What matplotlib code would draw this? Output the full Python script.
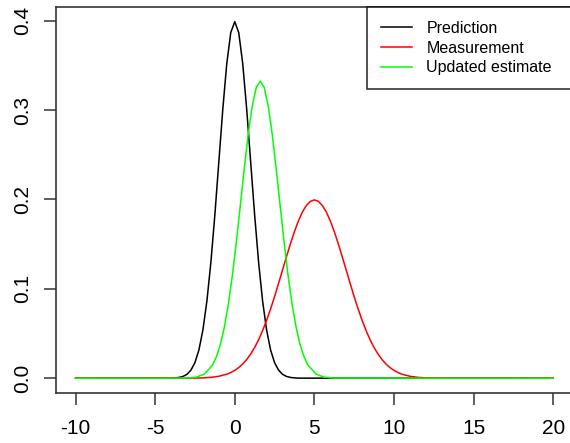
import matplotlib as mpl
mpl.use('Agg')
import matplotlib.pyplot as plt

#
#--- data (density curves)
#
pred_x = [-10, -4, -3.75, -3.5, -3.25, -3, -2.75, -2.5, -2.25, -2, -1.75, -1.5, -1.25, -1, -0.75, -0.5, -0.25,
          0, 0.25, 0.5, 0.75, 1, 1.25, 1.5, 1.75, 2, 2.25, 2.5, 2.75, 3, 3.25, 3.5, 3.75, 4, 20]
pred_y = [0, 0.0001, 0.0004, 0.0009, 0.0020, 0.0044, 0.0091, 0.0175, 0.0317, 0.0540, 0.0863, 0.1295, 0.1826,
          0.2420, 0.3011, 0.3521, 0.3867, 0.3989, 0.3867, 0.3521, 0.3011, 0.2420, 0.1826, 0.1295, 0.0863,
          0.0540, 0.0317, 0.0175, 0.0091, 0.0044, 0.0020, 0.0009, 0.0004, 0.0001, 0]

meas_x = [-10, -3, -2.5, -2, -1.5, -1, -0.5, -0.25, 0, 0.25, 0.5, 0.75, 1, 1.25, 1.5, 1.75, 2, 2.25, 2.5,
          2.75, 3, 3.25, 3.5, 3.75, 4, 4.25, 4.5, 4.75, 5, 5.25, 5.5, 5.75, 6, 6.25, 6.5, 6.75, 7, 7.25,
          7.5, 7.75, 8, 8.25, 8.5, 8.75, 9, 9.25, 9.5, 9.75, 10, 10.25, 10.5, 11, 11.5, 12, 12.5, 13, 20]
meas_y = [0, 0.0001, 0.0002, 0.0004, 0.0010, 0.0022, 0.0045, 0.0064, 0.0088, 0.0119, 0.0159, 0.0209,
          0.0270, 0.0344, 0.0431, 0.0533, 0.0648, 0.0775, 0.0913, 0.1060, 0.1210, 0.1360, 0.1506, 0.1641,
          0.1760, 0.1860, 0.1933, 0.1979, 0.1995, 0.1979, 0.1933, 0.1860, 0.1760, 0.1641, 0.1506, 0.1360,
          0.1210, 0.1060, 0.0913, 0.0775, 0.0648, 0.0533, 0.0431, 0.0344, 0.0270, 0.0209, 0.0159, 0.0119,
          0.0088, 0.0064, 0.0045, 0.0022, 0.0010, 0.0004, 0.0002, 0.0001, 0]

upd_x = [-10, -3.4, -2.9, -2.4, -1.9, -1.4, -1.15, -0.9, -0.65, -0.4, -0.15, 0.1, 0.35, 0.6, 0.85, 1.1,
         1.35, 1.6, 1.85, 2.1, 2.35, 2.6, 2.85, 3.1, 3.35, 3.6, 3.85, 4.1, 4.35, 4.6, 5.1, 5.6, 6.1, 6.6, 20]
upd_y = [0, 0.0001, 0.0003, 0.0013, 0.0047, 0.0146, 0.0241, 0.0379, 0.0573, 0.0829, 0.1148, 0.1522,
         0.1932, 0.2349, 0.2734, 0.3048, 0.3253, 0.3324, 0.3253, 0.3048, 0.2734, 0.2349, 0.1932, 0.1522,
         0.1148, 0.0829, 0.0573, 0.0379, 0.0241, 0.0146, 0.0047, 0.0013, 0.0003, 0.0001, 0]

labels = ['Prediction', 'Measurement', 'Updated estimate']
colors = ['black', 'red', '#00ff00']

xticks = [-10, -5, 0, 5, 10, 15, 20]
yticks = [0.0, 0.1, 0.2, 0.3, 0.4]

plt.rcParams['font.family'] = ['Liberation Sans', 'DejaVu Sans']

fig = plt.figure(figsize=(5.70, 4.43), dpi=100)
ax = fig.add_axes([0.099, 0.1129, 0.905, 0.8707])

ax.plot(pred_x, pred_y, color=colors[0], lw=1.1, label=labels[0])
ax.plot(meas_x, meas_y, color=colors[1], lw=1.1, label=labels[1])
ax.plot(upd_x, upd_y, color=colors[2], lw=1.1, label=labels[2])

ax.set_xlim(-11.2, 21.2)
ax.set_ylim(-0.0165, 0.415)
ax.set_xticks(xticks)
ax.set_xticklabels([str(t) for t in xticks])
ax.set_yticks(yticks)
ax.set_yticklabels(['%.1f' % t for t in yticks], rotation=90, va='center')
ax.tick_params(labelsize=15, length=8.6, width=1.1, color='#333333')
ax.tick_params(axis='x', pad=10)
ax.tick_params(axis='y', pad=9)

for sp in ax.spines.values():
    sp.set_color('#333333')
    sp.set_linewidth(1.2)

#
#--- legend: left edge at x~367 px, box running past the right of the canvas
#
leg = ax.legend(loc='upper left', bbox_to_anchor=(0.602, 1.0, 0.42, 0.0), mode='expand',
                borderaxespad=0, fontsize=11.5, frameon=True, fancybox=False,
                handlelength=2.0, handletextpad=0.875, borderpad=0.85, labelspacing=0.3)
leg.get_frame().set_edgecolor('black')
leg.get_frame().set_linewidth(1.2)

plt.savefig('out.png', dpi=100)
plt.close('all')
